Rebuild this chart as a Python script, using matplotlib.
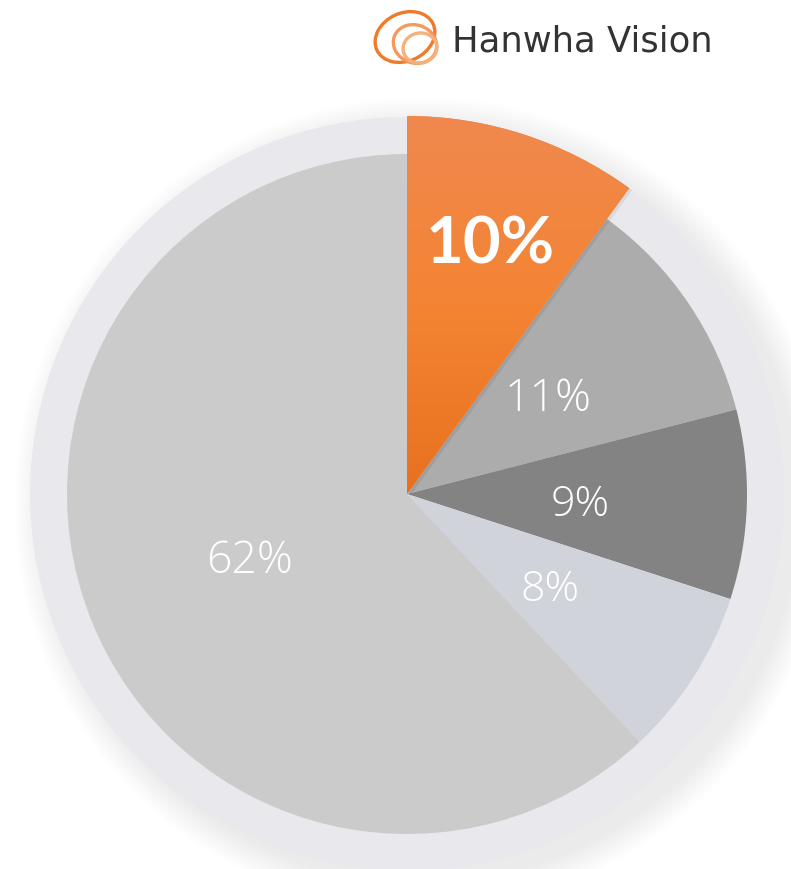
import numpy as np
import matplotlib.pyplot as plt
from matplotlib.patches import Circle, Ellipse, Wedge
from matplotlib.colors import LinearSegmentedColormap

# data
labels = ['10%', '11%', '9%', '8%', '62%']
values = [10, 11, 9, 8, 62]
colors = ['#f0843f', '#acacac', '#838383', '#d0d3da', '#cbcbcb']

W, H = 791, 870
cx, cy = 407, H - 495
R = 340

fig = plt.figure(figsize=(W / 100, H / 100), dpi=100)
ax = fig.add_axes([0, 0, 1, 1])

# soft shadow behind the ring (bottom right)
for i in range(20):
    ax.add_patch(Circle((cx + 14, cy - 10), 377 + 30 - i * 1.5, color='#000000',
                        alpha=0.005, lw=0, zorder=0))
ax.add_patch(Circle((cx, cy), 377, color='#e9e9ed', lw=0, zorder=1))

wedges, _ = ax.pie(values, colors=colors, startangle=90, counterclock=False,
                   center=(cx, cy), radius=R, frame=True,
                   wedgeprops=dict(linewidth=0, zorder=3))
ax.set_xlim(0, W)
ax.set_ylim(0, H)
ax.set_aspect('equal')
ax.axis('off')

# highlighted slice sticks out further, gradient + shadow
top = wedges[0]
top.set_radius(378)
top.set_zorder(5)
ax.add_patch(Wedge((cx + 3, cy - 2), 378, top.theta1, top.theta2,
                   color='#000000', alpha=0.07, lw=0, zorder=4))
grad = np.linspace(0, 1, 256).reshape(-1, 1)
cmap = LinearSegmentedColormap.from_list('o', ['#e8711f', '#f48433', '#f0894f'])
im = ax.imshow(grad, cmap=cmap, extent=(cx, cx + 240, cy, cy + 380),
               origin='lower', aspect='auto', zorder=6)
im.set_clip_path(top)
ax.set_xlim(0, W)
ax.set_ylim(0, H)

# labels
lab_pos = [(490, 245), (548, 400), (580, 505), (550, 590), (250, 562)]
lab_size = [47, 32, 31, 31, 32]
for t, (x, y), s in zip(labels, lab_pos, lab_size):
    if t == '10%':
        ax.text(x, H - y, t, color='white', fontsize=s, ha='center', va='center',
                family='Lato', fontweight='bold', zorder=10)
    else:
        ax.text(x, H - y, t, color='white', fontsize=s, ha='center', va='center',
                family='Open Sans', fontweight='light', zorder=10)

# logo
for (ex, ey, w, h, a, c) in [(405, 38, 62, 48, 25, '#f07a28'), (415, 45, 44, 38, -20, '#f39a5c'),
                              (420, 49, 34, 30, 10, '#f5b07c')]:
    ax.add_patch(Ellipse((ex, H - ey), w, h, angle=a, fill=False, ec=c, lw=2.4, zorder=10))
ax.text(452, H - 42, 'Hanwha Vision', color='#333333', fontsize=25.5, ha='left',
        va='center', family='DejaVu Sans', zorder=10)

fig.savefig('out.png', dpi=100, facecolor='white')
